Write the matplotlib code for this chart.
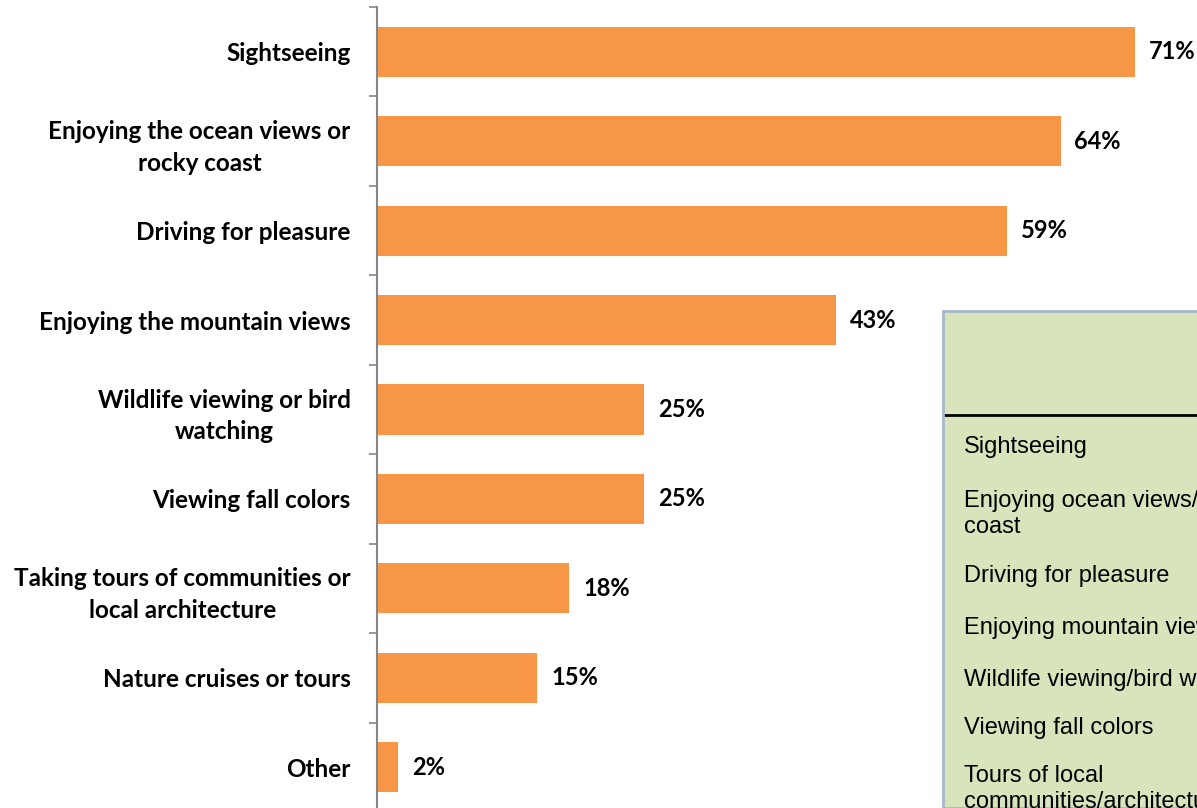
import numpy as np
import matplotlib.pyplot as plt

categories = ['Sightseeing', 'Enjoying the ocean views or\nrocky coast', 'Driving for pleasure',
              'Enjoying the mountain views', 'Wildlife viewing or bird\nwatching', 'Viewing fall colors',
              'Taking tours of communities or\nlocal architecture', 'Nature cruises or tours', 'Other']
values = [71, 64, 59, 43, 25, 25, 18, 15, 2]
table_rows = ['Sightseeing', 'Enjoying ocean views/rocky\ncoast', 'Driving for pleasure',
              'Enjoying mountain views', 'Wildlife viewing/bird watching', 'Viewing fall colors',
              'Tours of local\ncommunities/architecture']
table_y = [447, 514, 576, 628, 680, 728, 789]

W, H = 1197, 808
fig = plt.figure(figsize=(W / 100, H / 100), dpi=100)
ax = fig.add_axes([377 / W, -4 / H, (W - 377) / W, 805 / H])

y = np.arange(len(categories))
ax.barh(y, values, height=0.56, color='#F79646')
for yi, v in zip(y, values):
    ax.annotate(f'{v}%', (v, yi), xytext=(10, 0), textcoords='offset points',
                va='center', ha='left', fontsize=17, fontweight='bold', family='Lato')

ax.set_xlim(0, (W - 377) / 10.68)
ax.set_ylim(len(categories) - 0.5, -0.5)
ax.set_yticks(y)
ax.set_yticklabels(categories, fontsize=17.5, fontweight='bold', family='Lato', ha='right',
                   multialignment='center', linespacing=1.45)
ax.set_yticks(np.arange(len(categories) + 1) - 0.5, minor=True)
ax.tick_params(axis='y', which='major', length=0, pad=19)
ax.tick_params(axis='y', which='minor', length=6, width=1.2, color='#868686')
ax.set_xticks([])
for s in ['top', 'right', 'bottom']:
    ax.spines[s].set_visible(False)
ax.spines['left'].set_color('#868686')
ax.spines['left'].set_linewidth(1.5)

# green table box on the right
box = fig.add_axes([943 / W, 0, (W - 943) / W + 0.01, (H - 311) / H])
box.set_facecolor('#D8E4BC')
box.set_xticks([])
box.set_yticks([])
for s in box.spines.values():
    s.set_color('#A9B8CC')
    s.set_linewidth(2)
box.set_xlim(943, W + 12)
box.set_ylim(H, 311)
box.plot([945, W + 12], [415, 415], color='black', lw=2, clip_on=True)
for txt, ty in zip(table_rows, table_y):
    box.text(964, ty, txt, va='center', ha='left', fontsize=17, family='Liberation Sans',
             linespacing=1.28)

fig.savefig('out.png', dpi=100)
